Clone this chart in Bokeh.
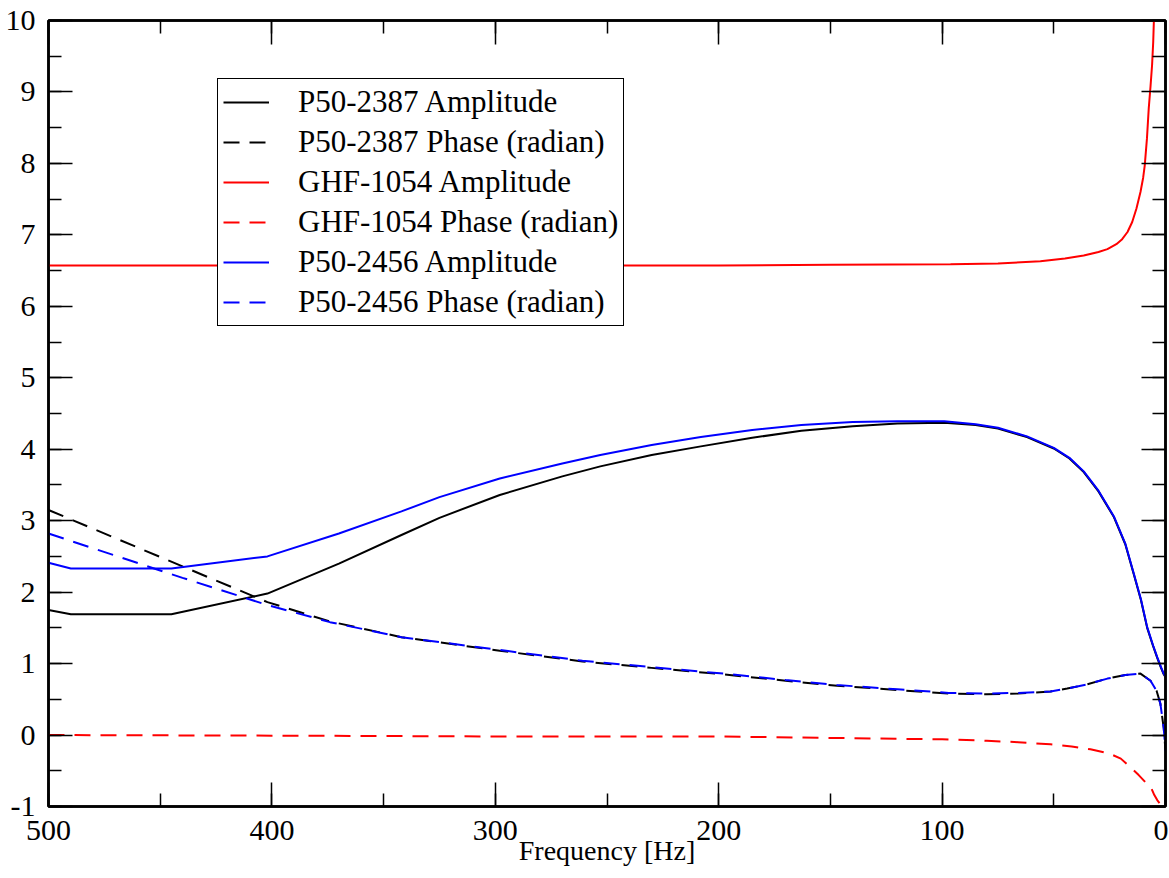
from bokeh.plotting import figure
from bokeh.models import (Range1d, LinearAxis, SingleIntervalTicker, Legend, LegendItem,
                          CustomJSTickFormatter)
from bokeh.embed import file_html
from bokeh.resources import INLINE

# ---------------- data ----------------
amp_freq = [500, 490, 445, 402, 370, 342, 325, 298, 270, 253, 230, 208, 185, 163, 140, 120, 99, 85, 75,
            62, 50, 43, 36.6, 30, 23.1, 18, 14.2, 11, 8.2, 5.5, 3.7, 2, 0.8, 0]
p2387_amp = [1.75, 1.69, 1.69, 1.98, 2.40, 2.80, 3.04, 3.36, 3.62, 3.76, 3.92, 4.04, 4.16, 4.26, 4.32, 4.36,
             4.37, 4.34, 4.29, 4.17, 4.01, 3.87, 3.68, 3.41, 3.05, 2.67, 2.25, 1.89, 1.50, 1.24, 1.08, 0.94,
             0.85, 0.81]
p2456_amp = [2.41, 2.33, 2.33, 2.50, 2.82, 3.13, 3.33, 3.59, 3.80, 3.92, 4.06, 4.17, 4.27, 4.34, 4.38, 4.39,
             4.39, 4.35, 4.30, 4.18, 4.02, 3.88, 3.69, 3.42, 3.06, 2.68, 2.26, 1.90, 1.51, 1.25, 1.09, 0.95,
             0.86, 0.82]

p2387_ph_freq = [500, 402, 374, 342, 298, 261, 230, 198, 170, 147, 120, 97, 80, 66, 51.5, 44, 35, 26, 18,
                 11.2, 6.7, 4, 2.3, 0.8, 0]
p2387_phase = [3.15, 1.86, 1.59, 1.37, 1.18, 1.03, 0.94, 0.85, 0.76, 0.69, 0.63, 0.58, 0.57, 0.58, 0.61,
               0.65, 0.71, 0.79, 0.84, 0.86, 0.76, 0.62, 0.44, 0.10, -0.22]

p2456_ph_freq = [500, 470, 440, 402, 374, 342, 298, 261, 230, 198, 170, 147, 120, 97, 80, 66, 51.5, 44, 35,
                 26, 18, 11.2, 6.7, 4, 2.3, 0.8, 0]
p2456_phase = [2.82, 2.51, 2.20, 1.82, 1.58, 1.37, 1.19, 1.04, 0.95, 0.86, 0.77, 0.70, 0.64, 0.59, 0.58,
               0.59, 0.61, 0.65, 0.71, 0.79, 0.84, 0.86, 0.76, 0.62, 0.44, 0.10, -0.22]

ghf_amp_freq = [500, 400, 300, 200, 150, 96.2, 75, 56, 45, 36.6, 30, 26, 22, 19.4, 17, 14.9, 13, 11.2, 10,
                9.3, 8.3, 7.5, 6.7, 6.0, 5.5, 5.2]
ghf_amp = [6.57, 6.57, 6.57, 6.57, 6.58, 6.59, 6.60, 6.63, 6.67, 6.71, 6.76, 6.80, 6.87, 6.94, 7.04, 7.18,
           7.37, 7.60, 7.80, 7.97, 8.35, 8.77, 9.08, 9.38, 9.70, 10.0]

ghf_ph_freq = [500, 380, 300, 200, 150, 100, 80, 66, 51.5, 42, 33.6, 25, 20, 15.7, 12, 9, 6.7, 5, 3.7, 2.5, 1]
ghf_phase = [0.0, -0.01, -0.02, -0.02, -0.04, -0.06, -0.08, -0.10, -0.13, -0.16, -0.20, -0.26, -0.33,
             -0.45, -0.56, -0.66, -0.72, -0.84, -0.91, -0.96, -1.0]

labels = ["P50-2387 Amplitude", "P50-2387 Phase (radian)", "GHF-1054 Amplitude",
          "GHF-1054 Phase (radian)", "P50-2456 Amplitude", "P50-2456 Phase (radian)"]

FONT = "Liberation Serif"

# ---------------- figure ----------------
p = figure(frame_width=1117, frame_height=786, x_range=Range1d(500, 0), y_range=Range1d(-1, 10),
           output_backend="svg", toolbar_location=None,
           min_border_left=48, min_border_top=20, min_border_right=3, min_border_bottom=0,
           x_axis_label="Frequency [Hz]")
p.xgrid.visible = False
p.ygrid.visible = False
p.outline_line_color = "black"
p.outline_line_width = 2.5
p.outline_line_alpha = 1.0


def style_axis(ax, show_labels):
    ax.axis_line_color = "black"
    ax.axis_line_width = 2.5
    ax.major_tick_in = 24
    ax.major_tick_out = 0
    ax.minor_tick_in = 13
    ax.minor_tick_out = 0
    ax.major_tick_line_color = "black"
    ax.minor_tick_line_color = "black"
    ax.major_tick_line_width = 1.5
    ax.minor_tick_line_width = 1.5
    if show_labels:
        ax.major_label_text_font = FONT
        ax.major_label_text_font_size = "30px"
        ax.major_label_text_color = "black"
    else:
        ax.formatter = CustomJSTickFormatter(code="return ''")
        ax.major_label_standoff = 0


p.xaxis[0].ticker = SingleIntervalTicker(interval=100, num_minor_ticks=2)
p.yaxis[0].ticker = SingleIntervalTicker(interval=1, num_minor_ticks=2)
style_axis(p.xaxis[0], True)
style_axis(p.yaxis[0], True)
p.yaxis[0].major_label_overrides = {-1: "-1"}
p.xaxis[0].major_label_standoff = 14
p.yaxis[0].major_label_standoff = 13
p.xaxis[0].axis_label_text_font = FONT
p.xaxis[0].axis_label_text_font_size = "28px"
p.xaxis[0].axis_label_text_font_style = "normal"
p.xaxis[0].axis_label_text_color = "black"
p.xaxis[0].axis_label_standoff = -8

top_ax = LinearAxis(ticker=SingleIntervalTicker(interval=100, num_minor_ticks=2))
right_ax = LinearAxis(ticker=SingleIntervalTicker(interval=1, num_minor_ticks=2))
style_axis(top_ax, False)
style_axis(right_ax, False)
p.add_layout(top_ax, "above")
p.add_layout(right_ax, "right")

# ---------------- lines ----------------
r1 = p.line(amp_freq, p2387_amp, line_color="black", line_width=2)
r2 = p.line(p2387_ph_freq, p2387_phase, line_color="black", line_width=2, line_dash="16 10")
r3 = p.line(ghf_amp_freq, ghf_amp, line_color="#ff0000", line_width=2)
r4 = p.line(ghf_ph_freq, ghf_phase, line_color="#ff0000", line_width=2, line_dash="16 10")
r5 = p.line(amp_freq, p2456_amp, line_color="#0000ff", line_width=2)
r6 = p.line(p2456_ph_freq, p2456_phase, line_color="#0000ff", line_width=2, line_dash="16 10")

legend = Legend(items=[LegendItem(label=l, renderers=[r]) for l, r in zip(labels, [r1, r2, r3, r4, r5, r6])],
                location=(169, 480))
legend.label_text_font = FONT
legend.label_text_font_size = "31px"
legend.label_text_color = "black"
legend.border_line_color = "black"
legend.border_line_width = 1.5
legend.border_line_alpha = 1.0
legend.background_fill_color = "white"
legend.background_fill_alpha = 1.0
legend.padding = 5
legend.spacing = 4
legend.margin = 0
legend.glyph_width = 46
legend.glyph_height = 30
legend.label_height = 30
legend.label_standoff = 29
p.add_layout(legend)

open("out.html", "w").write(file_html(p, INLINE))
